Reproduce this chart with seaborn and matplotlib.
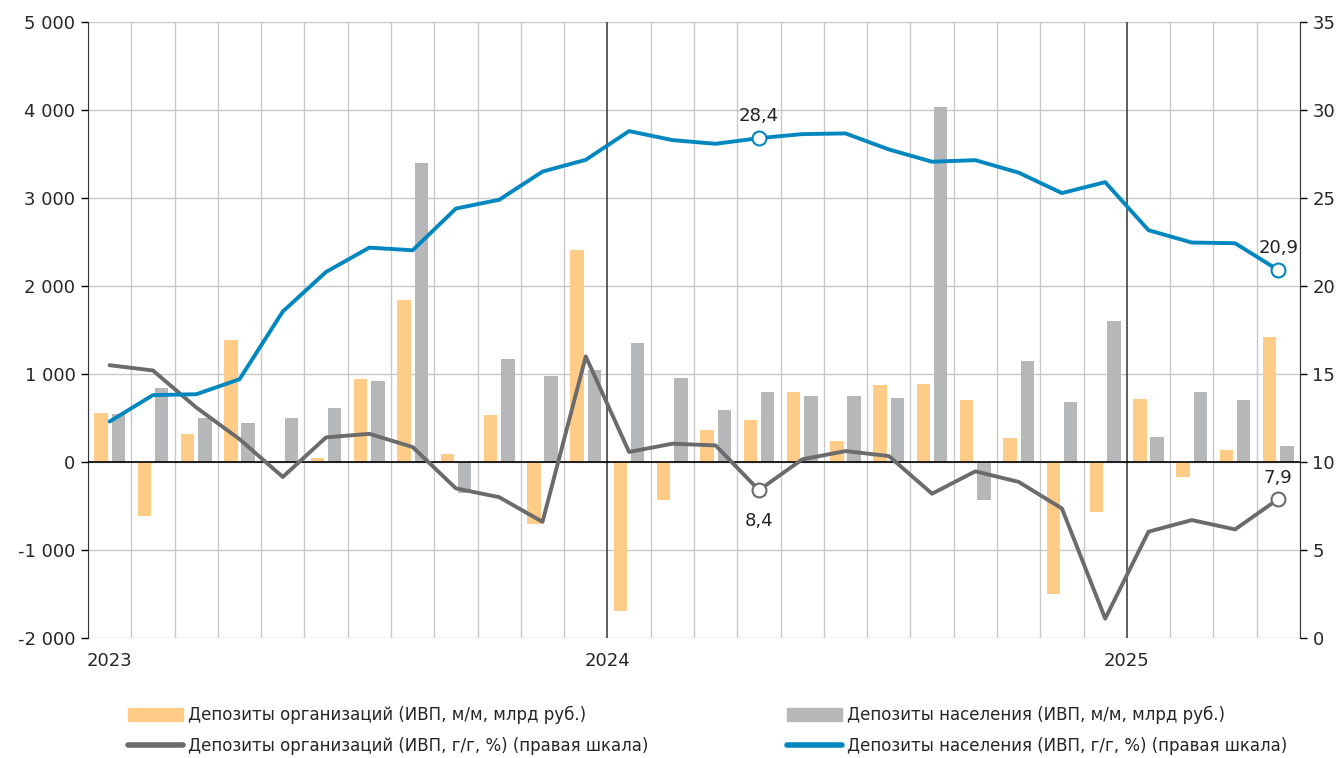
import numpy as np
import pandas as pd
import seaborn as sns
import matplotlib.pyplot as plt
from matplotlib.lines import Line2D
from matplotlib.patches import Patch

sns.set_style("white")
plt.rcParams['font.family'] = ['DejaVu Sans']

# monthly data, Jan 2023 .. Apr 2025
months = pd.date_range("2023-01-01", "2025-04-01", freq="MS")
org_mm = [560, -610, 320, 1390, 0, 45, 940, 1845, 90, 530, -710, 2410,
          -1690, -430, 360, 480, 800, 240, 875, 885, 705, 275, -1500, -570,
          720, -170, 135, 1415]
pop_mm = [545, 840, 500, 445, 495, 610, 915, 3400, -350, 1175, 980, 1040,
          1350, 960, 590, 790, 755, 755, 730, 4035, -430, 1145, 680, 1605,
          285, 795, 710, 185]
org_yy = [15.5, 15.2, 13.1, 11.3, 9.15, 11.4, 11.6, 10.85, 8.5, 8.0, 6.6, 16.0,
          10.57, 11.04, 10.94, 8.4, 10.15, 10.62, 10.34, 8.2, 9.47, 8.87, 7.36, 1.1,
          6.04, 6.7, 6.17, 7.9]
pop_yy = [12.3, 13.8, 13.85, 14.7, 18.55, 20.8, 22.18, 22.03, 24.4, 24.9, 26.5, 27.17,
          28.8, 28.29, 28.08, 28.4, 28.63, 28.67, 27.76, 27.06, 27.15, 26.44, 25.28, 25.9,
          23.17, 22.47, 22.43, 20.9]

lab_org_mm = "Депозиты организаций (ИВП, м/м, млрд руб.)"
lab_pop_mm = "Депозиты населения (ИВП, м/м, млрд руб.)"
lab_org_yy = "Депозиты организаций (ИВП, г/г, %) (правая шкала)"
lab_pop_yy = "Депозиты населения (ИВП, г/г, %) (правая шкала)"

c_org = "#FFCC88"
c_pop = "#B6B7B9"
c_org_line = "#6B6B6B"
c_pop_line = "#0087C0"

n = len(months)
idx = np.arange(n)
bars = pd.DataFrame({
    "idx": np.concatenate([idx, idx]),
    "value": org_mm + pop_mm,
    "series": [lab_org_mm] * n + [lab_pop_mm] * n,
})

fig = plt.figure(figsize=(13.44, 7.58), dpi=100)
ax = fig.add_axes([88 / 1344, 1 - 638 / 758, (1300 - 88) / 1344, 616 / 758])

# grid
for b in np.arange(-0.5, n, 1.0):
    yr_line = b in (11.5, 23.5)
    ax.axvline(b, color="#333333" if yr_line else "#C8C8C8",
               lw=1.1 if yr_line else 1.0, zorder=0.5 if not yr_line else 0.6)
for yv in range(-2000, 5001, 1000):
    ax.axhline(yv, color="#C8C8C8", lw=1.0, zorder=0.4)

sns.barplot(data=bars, x="idx", y="value", hue="series", order=list(idx),
            hue_order=[lab_org_mm, lab_pop_mm], palette=[c_org, c_pop],
            saturation=1, width=0.8, gap=0.22, legend=False, ax=ax,
            zorder=2, linewidth=0)
ax.axhline(0, color="black", lw=1.2, zorder=3)

ax.set_xlim(-0.5, n - 0.5)
ax.set_ylim(-2000, 5000)
ax.set_yticks(range(-2000, 5001, 1000))
ax.set_yticklabels([f"{v:,}".replace(",", " ") for v in range(-2000, 5001, 1000)], fontsize=13)
ax.set_xticks([0, 11.5, 23.5])
ax.set_xticklabels(["2023", "2024", "2025"], fontsize=13)
ax.tick_params(axis="x", length=0, pad=10)
ax.tick_params(axis="y", length=5, width=1, color="black", direction="out", pad=4, left=True)
ax.set_xlabel("")
ax.set_ylabel("")
for s in ["top", "bottom", "right"]:
    ax.spines[s].set_visible(False)
ax.spines["left"].set_color("#333333")

ax2 = ax.twinx()
sns.lineplot(x=idx, y=org_yy, ax=ax2, color=c_org_line, lw=2.8, zorder=4)
sns.lineplot(x=idx, y=pop_yy, ax=ax2, color=c_pop_line, lw=2.8, zorder=5)
ax2.set_ylim(0, 35)
ax2.set_yticks(range(0, 36, 5))
ax2.set_yticklabels([str(v) for v in range(0, 36, 5)], fontsize=13)
ax2.tick_params(axis="y", length=5, width=1, color="black", direction="out", pad=4, right=True)
for s in ["top", "bottom", "left"]:
    ax2.spines[s].set_visible(False)
ax2.spines["right"].set_color("#333333")
ax2.set_ylabel("")

# highlighted points
for i, vals, col, dy in [(15, pop_yy, c_pop_line, 16), (27, pop_yy, c_pop_line, 16),
                         (15, org_yy, c_org_line, -22), (27, org_yy, c_org_line, 15)]:
    ax2.plot(idx[i], vals[i], "o", ms=10, mfc="white", mec=col, mew=1.5, zorder=6)
    ax2.annotate(f"{vals[i]:.1f}".replace(".", ","), (idx[i], vals[i]),
                 xytext=(0, dy), textcoords="offset points", ha="center",
                 va="center", fontsize=13, color="#222222")

# legend
h1 = [Patch(color=c_org, label=lab_org_mm),
      Line2D([], [], color=c_org_line, lw=4, solid_capstyle="round", label=lab_org_yy)]
h2 = [Patch(color=c_pop, label=lab_pop_mm),
      Line2D([], [], color=c_pop_line, lw=4, solid_capstyle="round", label=lab_pop_yy)]
for hs, xpos in [(h1, 128 / 1344), (h2, 787 / 1344)]:
    fig.legend(handles=hs, loc="upper left", bbox_to_anchor=(xpos, 1 - 706 / 758),
               frameon=False, fontsize=12, handlelength=3.3, handleheight=0.8,
               handletextpad=0.3, labelspacing=0.75, borderpad=0, borderaxespad=0)

fig.savefig("out.png", dpi=100)
